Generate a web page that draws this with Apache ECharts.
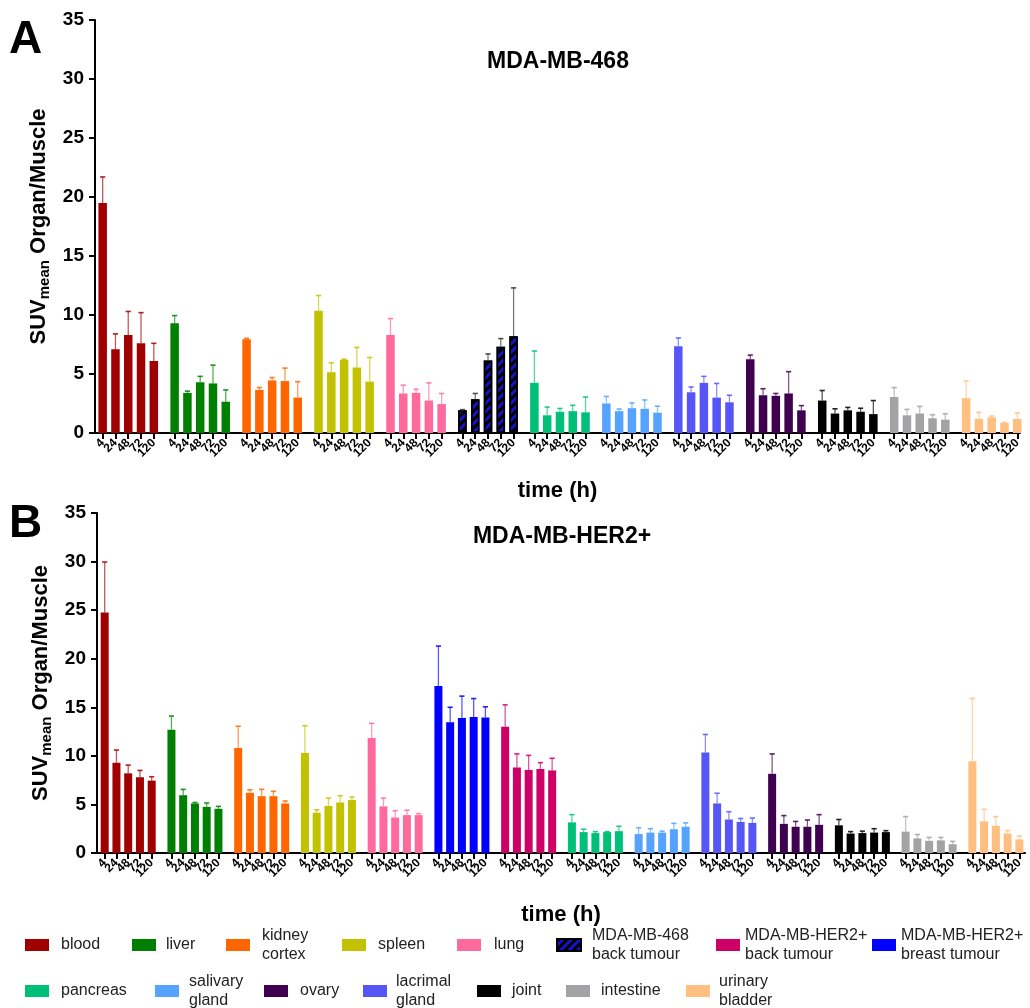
<!DOCTYPE html>
<html>
<head>
<meta charset="utf-8">
<script src="https://cdn.jsdelivr.net/npm/echarts@6/dist/echarts.min.js"></script>
<style>
  html, body { margin: 0; padding: 0; background: #fff; }
  #chart { width: 1030px; height: 1008px; }
</style>
</head>
<body>
<div id="chart"></div>
<script>
// Time points (h) of each scan, shared by every organ group
const timeLabels = ['4', '24', '48', '72', '120'];

// Panel A: MDA-MB-468 model
const organsA = ['blood', 'liver', 'kidney cortex', 'spleen', 'lung', 'MDA-MB-468 back tumour',
  'pancreas', 'salivary gland', 'lacrimal gland', 'ovary', 'joint', 'intestine', 'urinary bladder'];
const meansA = [
  [19.5, 7.1, 8.3, 7.6, 6.1],
  [9.3, 3.4, 4.3, 4.2, 2.65],
  [7.95, 3.65, 4.45, 4.4, 3.0],
  [10.35, 5.15, 6.2, 5.55, 4.35],
  [8.3, 3.35, 3.4, 2.75, 2.45],
  [1.92, 2.85, 6.15, 7.3, 8.2],
  [4.25, 1.5, 1.8, 1.85, 1.75],
  [2.5, 1.85, 2.1, 2.05, 1.72],
  [7.35, 3.45, 4.25, 3.0, 2.6],
  [6.25, 3.2, 3.15, 3.35, 1.92],
  [2.75, 1.65, 1.92, 1.8, 1.6],
  [3.05, 1.5, 1.65, 1.25, 1.13],
  [2.95, 1.2, 1.33, 0.85, 1.2]
];
const sdA = [
  [2.2, 1.3, 2.0, 2.6, 1.5],
  [0.65, 0.15, 0.5, 1.55, 1.0],
  [0.07, 0.2, 0.25, 1.1, 1.35],
  [1.3, 0.8, 0.06, 1.7, 2.05],
  [1.4, 0.7, 0.3, 1.5, 0.9],
  [0.06, 0.5, 0.55, 0.7, 4.1],
  [2.7, 0.7, 0.28, 0.5, 1.3],
  [0.6, 0.18, 0.45, 0.75, 0.55],
  [0.7, 0.45, 0.55, 1.2, 0.6],
  [0.35, 0.55, 0.2, 1.85, 0.4],
  [0.85, 0.4, 0.25, 0.3, 1.15],
  [0.8, 0.5, 0.6, 0.3, 0.5],
  [1.45, 0.55, 0.11, 0.05, 0.5]
];

// Panel B: MDA-MB-HER2+ model
const organsB = ['blood', 'liver', 'kidney cortex', 'spleen', 'lung', 'MDA-MB-HER2+ breast tumour',
  'MDA-MB-HER2+ back tumour', 'pancreas', 'salivary gland', 'lacrimal gland', 'ovary', 'joint',
  'intestine', 'urinary bladder'];
const meansB = [
  [24.75, 9.3, 8.2, 7.8, 7.45],
  [12.7, 5.95, 5.1, 4.75, 4.55],
  [10.8, 6.2, 5.85, 5.85, 5.1],
  [10.3, 4.15, 4.85, 5.2, 5.45],
  [11.85, 4.8, 3.65, 3.9, 3.9],
  [17.2, 13.45, 13.9, 14.0, 13.95],
  [13.0, 8.8, 8.55, 8.65, 8.5],
  [3.15, 2.15, 2.05, 2.15, 2.25],
  [1.95, 2.1, 2.1, 2.45, 2.7],
  [10.35, 5.1, 3.45, 3.2, 3.1],
  [8.15, 3.0, 2.7, 2.7, 2.9],
  [2.85, 2.0, 2.05, 2.1, 2.15],
  [2.2, 1.5, 1.25, 1.3, 0.9],
  [9.45, 3.25, 2.8, 2.0, 1.4]
];
const sdB = [
  [5.2, 1.3, 0.85, 0.7, 0.4],
  [1.4, 0.6, 0.1, 0.4, 0.25],
  [2.25, 0.3, 0.7, 0.5, 0.25],
  [2.8, 0.3, 0.8, 0.7, 0.3],
  [1.5, 0.85, 0.7, 0.5, 0.15],
  [4.1, 1.55, 2.25, 1.9, 1.1],
  [2.25, 1.4, 1.5, 0.65, 1.25],
  [0.8, 0.3, 0.15, 0.05, 0.5],
  [0.65, 0.4, 0.15, 0.6, 0.4],
  [1.85, 1.05, 0.8, 0.35, 0.5],
  [2.05, 0.85, 0.55, 0.7, 1.05],
  [0.6, 0.2, 0.2, 0.4, 0.15],
  [1.55, 0.4, 0.35, 0.3, 0.3],
  [6.45, 1.25, 0.95, 0.3, 0.35]
];

// Organ colours
const organColors = {
  'blood': '#a00000',
  'liver': '#008000',
  'kidney cortex': '#ff6600',
  'spleen': '#c2c200',
  'lung': '#fd6a9b',
  'MDA-MB-468 back tumour': '#1414c8',
  'MDA-MB-HER2+ back tumour': '#cc0066',
  'MDA-MB-HER2+ breast tumour': '#0000ff',
  'pancreas': '#00bf78',
  'salivary gland': '#55a2ff',
  'ovary': '#3f0050',
  'lacrimal gland': '#5656f6',
  'joint': '#000000',
  'intestine': '#a3a3a5',
  'urinary bladder': '#ffbf80'
};
const hatchedOrgan = 'MDA-MB-468 back tumour';

// Legend wording with line breaks
const legendText = {
  'kidney cortex': 'kidney\ncortex',
  'MDA-MB-468 back tumour': 'MDA-MB-468\nback tumour',
  'MDA-MB-HER2+ back tumour': 'MDA-MB-HER2+\nback tumour',
  'MDA-MB-HER2+ breast tumour': 'MDA-MB-HER2+\nbreast tumour',
  'salivary gland': 'salivary\ngland',
  'lacrimal gland': 'lacrimal\ngland',
  'urinary bladder': 'urinary\nbladder'
};

const FONT = "'Liberation Sans', Arial, Helvetica, sans-serif";

// Layout of each panel: bar slots are one unit apart, groups are groupStep units apart
const panels = [
  { organs: organsA, means: meansA, sd: sdA, groupStep: 5.628, min: -0.6, max: 71.75,
    barWidth: 8.5, grid: { left: 95, top: 20, width: 925, height: 413 },
    nameGap: 47, title: 'MDA-MB-468', titleX: 558, titleY: 50, letter: 'A', letterY: 17 },
  { organs: organsB, means: meansB, sd: sdB, groupStep: 5.68, min: -0.655, max: 78.32,
    barWidth: 8, grid: { left: 97, top: 513, width: 928, height: 340 },
    nameGap: 51, title: 'MDA-MB-HER2+', titleX: 562, titleY: 525, letter: 'B', letterY: 501 }
];

function slotPos(p, g, t) { return g * p.groupStep + t; }

// Mean + SD whisker drawn on top of each bar
function renderErr(params, api) {
  const x = api.value(0), m = api.value(1), u = api.value(2);
  const p0 = api.coord([x, m]);
  const p1 = api.coord([x, u]);
  const col = api.visual('color');
  return {
    type: 'group',
    children: [
      { type: 'line', shape: { x1: p0[0], y1: p0[1], x2: p1[0], y2: p1[1] },
        style: { stroke: col, lineWidth: 1.3, opacity: 0.65 } },
      { type: 'line', shape: { x1: p1[0] - 2.6, y1: p1[1], x2: p1[0] + 2.6, y2: p1[1] },
        style: { stroke: col, lineWidth: 1.6, opacity: 0.85 } }
    ]
  };
}

const series = [];
const grids = [], xAxes = [], yAxes = [], titles = [];

panels.forEach((p, pi) => {
  grids.push(p.grid);

  const ticks = [];
  const tickNames = [];
  p.organs.forEach((org, g) => {
    timeLabels.forEach((tl, t) => {
      ticks.push(slotPos(p, g, t));
      tickNames.push(tl);
    });
  });
  // time label of the bar slot nearest to an axis value
  const nearestLabel = v => {
    let best = 0, bd = Infinity;
    ticks.forEach((tv, i) => { const d = Math.abs(tv - v); if (d < bd) { bd = d; best = i; } });
    return bd < 0.3 ? tickNames[best] : '';
  };
  // blank end stops, so the min/max label rule never hides a real slot label
  const labelValues = [p.min].concat(ticks, [p.max]);

  xAxes.push({
    type: 'value', gridIndex: pi, min: p.min, max: p.max,
    name: 'time (h)', nameLocation: 'middle', nameGap: p.nameGap,
    nameTextStyle: { fontSize: 22, fontWeight: 'bold', color: '#000', fontFamily: FONT },
    splitLine: { show: false },
    axisLine: { onZero: false, lineStyle: { color: '#000', width: 2 } },
    axisTick: { show: true, customValues: ticks, length: 6, lineStyle: { color: '#000', width: 2 } },
    axisLabel: {
      customValues: labelValues, rotate: 45, margin: 8, hideOverlap: false,
      showMinLabel: false, showMaxLabel: false,
      fontSize: 12, fontWeight: 'bold', color: '#000', fontFamily: FONT,
      formatter: v => nearestLabel(Number(v))
    }
  });

  yAxes.push({
    type: 'value', gridIndex: pi, min: 0, max: 35, interval: 5,
    name: '{a|SUV}{b|mean}{a| Organ/Muscle}',
    nameLocation: 'middle', nameRotate: 90, nameGap: 40,
    nameTextStyle: {
      rich: {
        a: { fontSize: 22, fontWeight: 'bold', color: '#000', fontFamily: FONT },
        b: { fontSize: 15, fontWeight: 'bold', color: '#000', fontFamily: FONT, padding: [12, 0, 0, 0] }
      }
    },
    splitLine: { show: false },
    axisLine: { show: true, onZero: false, lineStyle: { color: '#000', width: 2 } },
    axisTick: { show: true, length: 6, lineStyle: { color: '#000', width: 2 } },
    axisLabel: { fontSize: 19, fontWeight: 'bold', color: '#000', margin: 11, fontFamily: FONT }
  });

  titles.push({
    text: p.letter, left: 9, top: p.letterY, padding: 0,
    textStyle: { fontSize: 46, fontWeight: 'bold', color: '#000', fontFamily: FONT }
  });
  titles.push({
    text: p.title, left: p.titleX, top: p.titleY, textAlign: 'center', padding: 0,
    textStyle: { fontSize: 23, fontWeight: 'bold', color: '#000', fontFamily: FONT }
  });

  p.organs.forEach((org, g) => {
    const color = organColors[org];
    const hatched = org === hatchedOrgan;
    const itemStyle = hatched
      ? { color: color, borderColor: '#000', borderWidth: 1.5,
          decal: { symbol: 'rect', symbolSize: 1, color: '#000',
                   dashArrayX: [1, 0], dashArrayY: [2.2, 2.6], rotation: -Math.PI / 4 } }
      : { color: color };
    series.push({
      type: 'bar', name: org, xAxisIndex: pi, yAxisIndex: pi,
      barWidth: p.barWidth, barGap: '-100%',
      itemStyle: itemStyle,
      emphasis: { disabled: true },
      data: timeLabels.map((_, t) => [slotPos(p, g, t), p.means[g][t]])
    });
    series.push({
      type: 'custom', name: org, xAxisIndex: pi, yAxisIndex: pi,
      renderItem: renderErr, z: 3,
      itemStyle: { color: hatched ? '#333' : color },
      encode: { x: 0, y: [1, 2] },
      data: timeLabels.map((_, t) => [slotPos(p, g, t), p.means[g][t], p.means[g][t] + p.sd[g][t]])
    });
  });
});

// Legend placement: [name, icon x, text x, row centre y]
const legendLayout = [
  ['blood', 25, 61, 945],
  ['liver', 132, 166, 945],
  ['kidney cortex', 226, 262, 945],
  ['spleen', 342, 378, 945],
  ['lung', 457, 494, 945],
  ['MDA-MB-468 back tumour', 556, 591, 945],
  ['MDA-MB-HER2+ back tumour', 716, 744, 945],
  ['MDA-MB-HER2+ breast tumour', 872, 899, 945],
  ['pancreas', 25, 61, 991],
  ['salivary gland', 155, 189, 991],
  ['ovary', 264, 300, 991],
  ['lacrimal gland', 363, 396, 991],
  ['joint', 477, 512, 991],
  ['intestine', 566, 601, 991],
  ['urinary bladder', 686, 719, 991]
];
const ICON_W = 24, ICON_H = 12, LINE_H = 19;
const legends = legendLayout.map(([name, ix, tx, cy]) => {
  const label = legendText[name] || name;
  const lines = label.split('\n').length;
  const h = Math.max(ICON_H, lines * LINE_H);
  return {
    data: [name], left: ix, top: cy - h / 2, padding: 0,
    icon: 'rect', itemWidth: ICON_W, itemHeight: ICON_H,
    selectedMode: false,
    formatter: () => label,
    textStyle: { fontSize: 16, color: '#222', lineHeight: LINE_H, fontFamily: FONT,
                 padding: [0, 0, 0, Math.max(0, tx - ix - ICON_W - 5)] }
  };
});

const chart = echarts.init(document.getElementById('chart'), null, { renderer: 'canvas' });
chart.setOption({
  animation: false,
  backgroundColor: '#fff',
  textStyle: { fontFamily: FONT },
  title: titles,
  legend: legends,
  grid: grids,
  xAxis: xAxes,
  yAxis: yAxes,
  series: series
});
</script>
</body>
</html>
